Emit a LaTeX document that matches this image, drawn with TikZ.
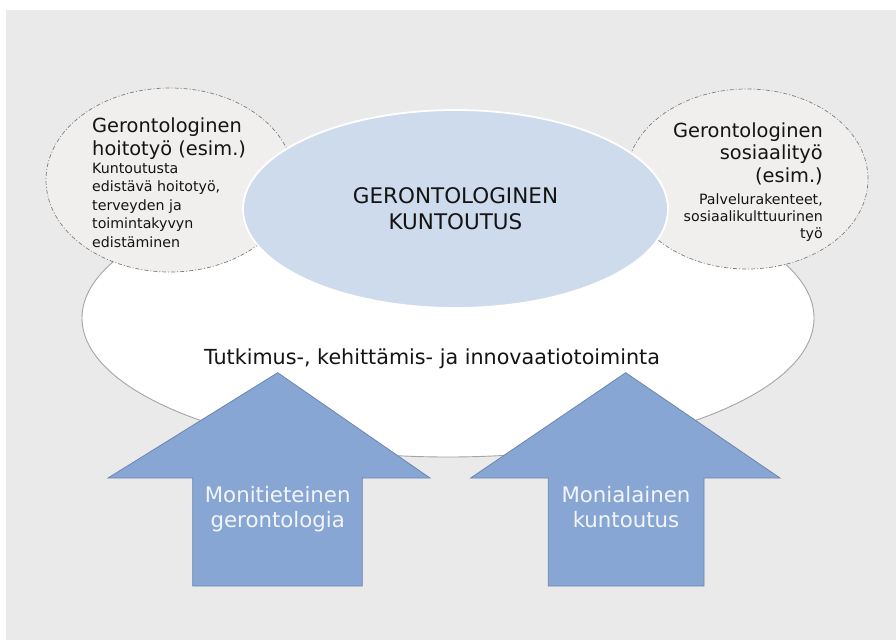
\documentclass[tikz,border=0pt]{standalone}
\usepackage{fontspec}
\setmainfont{DejaVu Sans}
\usetikzlibrary{shapes.geometric}

\definecolor{panel}{RGB}{234,234,234}
\definecolor{bubble}{RGB}{240,239,238}
\definecolor{bubbleline}{RGB}{125,125,125}
\definecolor{fieldline}{RGB}{165,165,165}
\definecolor{core}{RGB}{206,219,236}
\definecolor{arrowfill}{RGB}{136,166,212}
\definecolor{arrowline}{RGB}{108,134,176}
\definecolor{arrowtext}{RGB}{242,245,250}
\definecolor{ink}{RGB}{20,20,20}

\tikzset{
  field/.style={ellipse, draw=fieldline, line width=0.9pt, fill=white, inner sep=0pt},
  bubblebox/.style={ellipse, draw=bubbleline, fill=bubble, line width=0.7pt,
    dash pattern=on 4pt off 2pt on 1pt off 2pt, inner sep=0pt},
  corebox/.style={ellipse, draw=white, line width=1.8pt, fill=core, inner sep=0pt,
    text=ink, align=center, font=\fontsize{21.5}{26}\selectfont},
  bigarrow/.style={fill=arrowfill, draw=arrowline, line width=0.8pt, line join=miter},
  arrowlabel/.style={text=arrowtext, align=center, anchor=base, inner sep=0pt,
    font=\fontsize{21.3}{25}\selectfont},
  headtext/.style={text=ink, inner sep=0pt, font=\fontsize{19.4}{23}\selectfont},
  smalltext/.style={text=ink, inner sep=0pt, font=\fontsize{14.2}{18.5}\selectfont},
}

\begin{document}
\begin{tikzpicture}[x=1pt, y=-1pt]
\useasboundingbox (0,0) rectangle (896,640);
\fill[panel] (6,10) rectangle (896,640);

% research field
\node[field, minimum width=732pt, minimum height=278pt] (fieldell) at (448,318) {};

% side bubbles
\node[bubblebox, minimum width=248pt, minimum height=184pt] (nursing) at (170,180) {};
\node[bubblebox, minimum width=242pt, minimum height=180pt] (social) at (747,179) {};

% core
\node[corebox, minimum width=425pt, minimum height=198pt] (rehab) at (455.5,209)
  {GERONTOLOGINEN\\KUNTOUTUS};

% bubble texts (multi-line nodes are placed by the baseline of their last line)
\node[headtext, anchor=base west, align=left] (nursinghead) at (92,155)
  {Gerontologinen\\hoitotyö (esim.)};
\node[smalltext, anchor=base west, align=left] (nursingtext) at (92,247)
  {Kuntoutusta\\edistävä hoitotyö,\\terveyden ja\\toimintakyvyn\\edistäminen};
\node[headtext, anchor=base east, align=right, font=\fontsize{19.4}{22.5}\selectfont]
  (socialhead) at (823,182) {Gerontologinen\\sosiaalityö\\(esim.)};
\node[smalltext, anchor=base east, align=right, font=\fontsize{14.2}{17}\selectfont]
  (socialtext) at (823,238) {Palvelurakenteet,\\sosiaalikulttuurinen\\työ};

% field label
\node[text=ink, anchor=base, inner sep=0pt, font=\fontsize{20.7}{25}\selectfont]
  (fieldlabel) at (432,364) {Tutkimus-, kehittämis- ja innovaatiotoiminta};

% upward arrows
\draw[bigarrow] (277.7,372.7) -- (430,478) -- (362.3,478) -- (362.3,586)
  -- (192.7,586) -- (192.7,478) -- (108,478) -- cycle;
\draw[bigarrow] (625.7,372.7) -- (780,478) -- (704,478) -- (704,586)
  -- (548.3,586) -- (548.3,478) -- (470.7,478) -- cycle;

\node[arrowlabel] (geronto) at (277.7,527) {Monitieteinen\\gerontologia};
\node[arrowlabel] (multi) at (626,527) {Monialainen\\kuntoutus};
\end{tikzpicture}
\end{document}
